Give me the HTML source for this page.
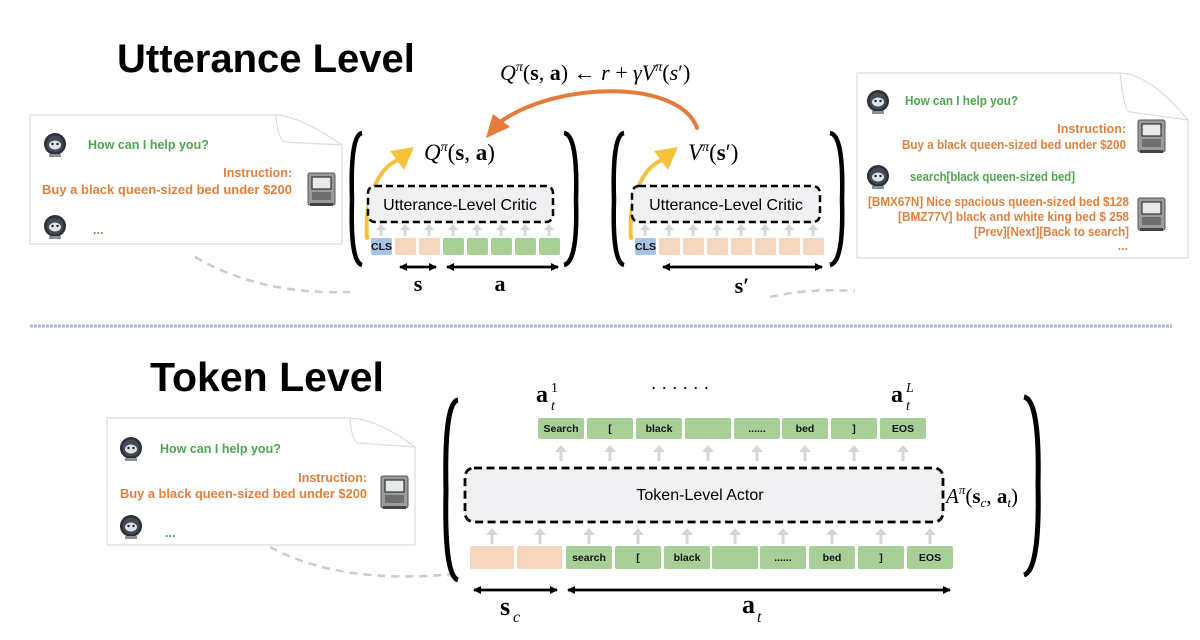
<!DOCTYPE html>
<html><head><meta charset="utf-8"><style>
html,body{margin:0;padding:0;background:#fff;}
svg{display:block;}
.t{font-family:"Liberation Sans",sans-serif;}
.c{font-family:"Liberation Sans",sans-serif;font-weight:bold;font-size:12.5px;}
.g{fill:#4ea64f;} .o{fill:#e0813f;}
.m{font-family:"Liberation Serif",serif;}
.tk{font-family:"Liberation Sans",sans-serif;font-weight:bold;font-size:10.5px;fill:#111;}
</style></head><body>
<svg width="1200" height="640" viewBox="0 0 1200 640" xmlns="http://www.w3.org/2000/svg">
<defs>
<g id="robot"><circle cx="0" cy="0" r="11" fill="#2b2f38"/><circle cx="0" cy="0" r="8.5" fill="#444b58"/><ellipse cx="0" cy="1" rx="6" ry="4.5" fill="#dfe3e8"/><circle cx="-2.5" cy="0" r="1.2" fill="#222"/><circle cx="2.5" cy="0" r="1.2" fill="#222"/><rect x="-6" y="10" width="12" height="3" fill="#8a9099"/></g>
<g id="comp"><rect x="0" y="0" width="27" height="32" rx="2" fill="#9a9c9c" stroke="#555" stroke-width="1"/><rect x="4" y="4" width="19" height="12" fill="#e6eae8" stroke="#333" stroke-width="1.2"/><rect x="4" y="19" width="19" height="8" fill="#6d7070"/><rect x="2" y="30" width="23" height="3" fill="#444"/></g>
<g id="ua"><rect x="-1.3" y="5" width="2.6" height="7" fill="#d6d6d6"/><path d="M-5,6 L0,0 L5,6 z" fill="#d6d6d6"/></g>
<g id="ub"><rect x="-1.5" y="6" width="3" height="10" fill="#d6d6d6"/><path d="M-6,7 L0,0 L6,7 z" fill="#d6d6d6"/></g>
<marker id="ah" markerWidth="8" markerHeight="8" refX="7" refY="4" orient="auto" markerUnits="userSpaceOnUse"><path d="M0,0 L8,4 L0,8 z" fill="#000"/></marker>
</defs>

<text x="117" y="72" class="t" font-size="40" font-weight="bold">Utterance Level</text>
<text x="150" y="391" class="t" font-size="41" font-weight="bold">Token Level</text>

<text x="500" y="80" class="m" font-size="22"><tspan font-style="italic">Q</tspan><tspan font-size="14" dy="-9" font-style="italic">π</tspan><tspan dy="9">(</tspan><tspan font-weight="bold">s</tspan>, <tspan font-weight="bold">a</tspan>) ← <tspan font-style="italic">r</tspan> + <tspan font-style="italic">γV</tspan><tspan font-size="14" dy="-9" font-style="italic">π</tspan><tspan dy="9">(</tspan><tspan font-style="italic">s</tspan>′)</text>

<path d="M697,128 C680,80 560,80 500,122" fill="none" stroke="#e47b3a" stroke-width="4" stroke-linecap="round"/>
<path d="M486,138 L493,114 L510,127 z" fill="#e47b3a"/>

<!-- LEFT CHAT -->
<path d="M30,115 L276,115 Q300,116 342,145 L342,244 L30,244 z" fill="#fff" stroke="#d8dfdc" stroke-width="1.2"/>
<path d="M276,115 Q278,140 285,142 L342,145" fill="none" stroke="#d8dfdc" stroke-width="1.2"/>
<use href="#robot" x="55" y="144"/>
<text x="88" y="149" class="c g">How can I help you?</text>
<text x="292" y="177" class="c o" text-anchor="end">Instruction:</text>
<text x="292" y="194" class="c o" text-anchor="end" textLength="250" lengthAdjust="spacingAndGlyphs">Buy a black queen-sized bed under $200</text>
<use href="#comp" x="308" y="173"/>
<use href="#robot" x="55" y="226"/>
<text x="93" y="234" class="c g">...</text>
<path d="M195,257 Q260,295 350,292" fill="none" stroke="#ccc" stroke-width="2.5" stroke-dasharray="8,6"/>

<!-- Q block -->
<path d="M362,133 Q350,135 352,200 Q350,262 362,265" fill="none" stroke="#000" stroke-width="4.5"/>
<path d="M564,133 Q578,135 576,200 Q578,262 564,265" fill="none" stroke="#000" stroke-width="4.5"/>
<text x="424" y="160" class="m" font-size="23"><tspan font-style="italic">Q</tspan><tspan font-size="14" dy="-9" font-style="italic">π</tspan><tspan dy="9">(</tspan><tspan font-weight="bold">s</tspan>, <tspan font-weight="bold">a</tspan>)</text>
<path d="M367,238 C364,200 378,168 398,160" fill="none" stroke="#f6c23e" stroke-width="4" stroke-linecap="round"/>
<path d="M414,147 L390,151 L404,170 z" fill="#f6c23e"/>
<rect x="368" y="186" width="185" height="36" rx="7" fill="#f0eff1" stroke="#000" stroke-width="2.5" stroke-dasharray="7,4"/>
<text x="460" y="210" class="t" font-size="16" text-anchor="middle">Utterance-Level Critic</text>
<use href="#ua" x="381" y="224"/><use href="#ua" x="405" y="224"/><use href="#ua" x="429" y="224"/><use href="#ua" x="453" y="224"/><use href="#ua" x="477" y="224"/><use href="#ua" x="501" y="224"/><use href="#ua" x="525" y="224"/><use href="#ua" x="549" y="224"/>
<rect x="371" y="238" width="21" height="17" rx="2" fill="#a9c3e6"/>
<text x="381.5" y="250" class="tk" font-size="8" text-anchor="middle">CLS</text>
<g fill="#f6d6bf"><rect x="395" y="238" width="21" height="17" rx="2"/><rect x="419" y="238" width="21" height="17" rx="2"/></g>
<g fill="#a9cf98"><rect x="443" y="238" width="21" height="17" rx="2"/><rect x="467" y="238" width="21" height="17" rx="2"/><rect x="491" y="238" width="21" height="17" rx="2"/><rect x="515" y="238" width="21" height="17" rx="2"/><rect x="539" y="238" width="21" height="17" rx="2"/></g>
<g stroke="#000" stroke-width="2.5">
<line x1="400" y1="267" x2="436" y2="267" marker-end="url(#ah)"/><line x1="436" y1="267" x2="400" y2="267" marker-end="url(#ah)"/>
<line x1="447" y1="267" x2="558" y2="267" marker-end="url(#ah)"/><line x1="558" y1="267" x2="447" y2="267" marker-end="url(#ah)"/>
</g>
<text x="418" y="291" class="m" font-size="22" font-weight="bold" text-anchor="middle">s</text>
<text x="500" y="291" class="m" font-size="22" font-weight="bold" text-anchor="middle">a</text>

<!-- V block -->
<path d="M624,133 Q612,135 614,200 Q612,262 624,265" fill="none" stroke="#000" stroke-width="4.5"/>
<path d="M830,133 Q844,135 842,200 Q844,262 830,265" fill="none" stroke="#000" stroke-width="4.5"/>
<text x="688" y="160" class="m" font-size="23"><tspan font-style="italic">V</tspan><tspan font-size="14" dy="-9" font-style="italic">π</tspan><tspan dy="9">(</tspan><tspan font-weight="bold">s</tspan>′)</text>
<path d="M631,238 C628,200 642,168 662,160" fill="none" stroke="#f6c23e" stroke-width="4" stroke-linecap="round"/>
<path d="M678,147 L654,151 L668,170 z" fill="#f6c23e"/>
<rect x="632" y="186" width="188" height="36" rx="7" fill="#f0eff1" stroke="#000" stroke-width="2.5" stroke-dasharray="7,4"/>
<text x="726" y="210" class="t" font-size="16" text-anchor="middle">Utterance-Level Critic</text>
<use href="#ua" x="645" y="224"/><use href="#ua" x="669" y="224"/><use href="#ua" x="693" y="224"/><use href="#ua" x="717" y="224"/><use href="#ua" x="741" y="224"/><use href="#ua" x="765" y="224"/><use href="#ua" x="789" y="224"/><use href="#ua" x="813" y="224"/>
<rect x="635" y="238" width="21" height="17" rx="2" fill="#a9c3e6"/>
<text x="645.5" y="250" class="tk" font-size="8" text-anchor="middle">CLS</text>
<g fill="#f6d6bf"><rect x="659" y="238" width="21" height="17" rx="2"/><rect x="683" y="238" width="21" height="17" rx="2"/><rect x="707" y="238" width="21" height="17" rx="2"/><rect x="731" y="238" width="21" height="17" rx="2"/><rect x="755" y="238" width="21" height="17" rx="2"/><rect x="779" y="238" width="21" height="17" rx="2"/><rect x="803" y="238" width="21" height="17" rx="2"/></g>
<g stroke="#000" stroke-width="2.5">
<line x1="663" y1="267" x2="822" y2="267" marker-end="url(#ah)"/><line x1="822" y1="267" x2="663" y2="267" marker-end="url(#ah)"/>
</g>
<text x="742" y="293" class="m" font-size="22" font-weight="bold" text-anchor="middle">s′</text>
<path d="M770,297 Q810,288 855,291" fill="none" stroke="#ccc" stroke-width="2.5" stroke-dasharray="8,6"/>

<!-- RIGHT CHAT -->
<path d="M857,73 L1120,73 Q1150,74 1188,120 L1188,258 L857,258 z" fill="#fff" stroke="#d8dfdc" stroke-width="1.2"/>
<path d="M1120,73 Q1124,112 1130,112 L1188,120" fill="none" stroke="#d8dfdc" stroke-width="1.2"/>
<use href="#robot" x="878" y="101"/>
<text x="905" y="105" class="c g" font-size="11.5" textLength="113" lengthAdjust="spacingAndGlyphs">How can I help you?</text>
<text x="1126" y="133" class="c o" text-anchor="end" font-size="11.5">Instruction:</text>
<text x="1126" y="149" class="c o" text-anchor="end" font-size="11.5" textLength="224" lengthAdjust="spacingAndGlyphs">Buy a black queen-sized bed under $200</text>
<use href="#comp" x="1138" y="120"/>
<use href="#robot" x="878" y="176"/>
<text x="910" y="181" class="c g" font-size="11.5" textLength="165" lengthAdjust="spacingAndGlyphs">search[black queen-sized bed]</text>
<text x="1129" y="206" class="c o" text-anchor="end" font-size="11.5" textLength="261" lengthAdjust="spacingAndGlyphs">[BMX67N] Nice spacious queen-sized bed $128</text>
<text x="1129" y="221" class="c o" text-anchor="end" font-size="11.5" textLength="231" lengthAdjust="spacingAndGlyphs">[BMZ77V] black and white king bed $ 258</text>
<text x="1129" y="236" class="c o" text-anchor="end" font-size="11.5" textLength="155" lengthAdjust="spacingAndGlyphs">[Prev][Next][Back to search]</text>
<text x="1128" y="250" class="c o" text-anchor="end" font-size="11.5">...</text>
<use href="#comp" x="1138" y="198"/>

<line x1="30" y1="326" x2="1172" y2="326" stroke="#a9b9e2" stroke-width="3" stroke-dasharray="3,1"/>

<!-- BOTTOM CHAT -->
<path d="M107,418 L350,418 Q380,420 415,447 L415,545 L107,545 z" fill="#fff" stroke="#d8dfdc" stroke-width="1.2"/>
<path d="M350,418 Q352,442 358,443 L415,447" fill="none" stroke="#d8dfdc" stroke-width="1.2"/>
<use href="#robot" x="131" y="448"/>
<text x="160" y="453" class="c g">How can I help you?</text>
<text x="367" y="482" class="c o" text-anchor="end">Instruction:</text>
<text x="367" y="498" class="c o" text-anchor="end" textLength="247" lengthAdjust="spacingAndGlyphs">Buy a black queen-sized bed under $200</text>
<use href="#comp" x="381" y="476"/>
<use href="#robot" x="131" y="526"/>
<text x="165" y="537" class="c g">...</text>
<path d="M270,547 Q340,585 455,574" fill="none" stroke="#ccc" stroke-width="2.5" stroke-dasharray="8,6"/>

<path d="M458,400 Q444,402 446,490 Q444,576 458,580" fill="none" stroke="#000" stroke-width="5"/>
<path d="M1024,397 Q1040,400 1038,485 Q1040,570 1024,575" fill="none" stroke="#000" stroke-width="5"/>

<text x="536" y="402" class="m" font-size="24" font-weight="bold">a</text>
<text x="551" y="410" class="m" font-size="14" font-style="italic">t</text>
<text x="551" y="392" class="m" font-size="14">1</text>
<text x="680" y="394" class="m" font-size="18" text-anchor="middle">· · · · · ·</text>
<text x="891" y="402" class="m" font-size="24" font-weight="bold">a</text>
<text x="906" y="410" class="m" font-size="14" font-style="italic">t</text>
<text x="906" y="392" class="m" font-size="14" font-style="italic">L</text>

<g fill="#a9cf98">
<rect x="538" y="418" width="46" height="21" rx="2"/><rect x="587" y="418" width="46" height="21" rx="2"/><rect x="636" y="418" width="46" height="21" rx="2"/><rect x="685" y="418" width="46" height="21" rx="2"/><rect x="734" y="418" width="46" height="21" rx="2"/><rect x="782" y="418" width="46" height="21" rx="2"/><rect x="831" y="418" width="46" height="21" rx="2"/><rect x="880" y="418" width="46" height="21" rx="2"/>
</g>
<g class="tk" text-anchor="middle">
<text x="561" y="432">Search</text><text x="610" y="432">[</text><text x="659" y="432">black</text><text x="757" y="432">......</text><text x="805" y="432">bed</text><text x="854" y="432">]</text><text x="903" y="432">EOS</text>
</g>
<use href="#ub" x="561" y="445"/><use href="#ub" x="610" y="445"/><use href="#ub" x="659" y="445"/><use href="#ub" x="708" y="445"/><use href="#ub" x="757" y="445"/><use href="#ub" x="805" y="445"/><use href="#ub" x="854" y="445"/><use href="#ub" x="903" y="445"/>

<rect x="465" y="468" width="478" height="54" rx="9" fill="#f0eff1" stroke="#000" stroke-width="2.8" stroke-dasharray="8,4.5"/>
<text x="700" y="500" class="t" font-size="16" text-anchor="middle">Token-Level Actor</text>
<text x="946" y="503" class="m" font-size="21"><tspan font-style="italic">A</tspan><tspan font-size="13" dy="-9" font-style="italic">π</tspan><tspan dy="9">(</tspan><tspan font-weight="bold">s</tspan><tspan font-size="13" dy="4" font-style="italic">c</tspan><tspan dy="-4">, </tspan><tspan font-weight="bold">a</tspan><tspan font-size="13" dy="4" font-style="italic">t</tspan><tspan dy="-4">)</tspan></text>

<use href="#ub" x="492" y="528"/><use href="#ub" x="540" y="528"/><use href="#ub" x="589" y="528"/><use href="#ub" x="638" y="528"/><use href="#ub" x="687" y="528"/><use href="#ub" x="735" y="528"/><use href="#ub" x="783" y="528"/><use href="#ub" x="832" y="528"/><use href="#ub" x="881" y="528"/><use href="#ub" x="930" y="528"/>
<g fill="#f6d6bf"><rect x="470" y="546" width="44" height="23" rx="2"/><rect x="517" y="546" width="45" height="23" rx="2"/></g>
<g fill="#a9cf98">
<rect x="566" y="546" width="46" height="23" rx="2"/><rect x="615" y="546" width="46" height="23" rx="2"/><rect x="664" y="546" width="46" height="23" rx="2"/><rect x="712" y="546" width="46" height="23" rx="2"/><rect x="760" y="546" width="46" height="23" rx="2"/><rect x="809" y="546" width="46" height="23" rx="2"/><rect x="858" y="546" width="46" height="23" rx="2"/><rect x="907" y="546" width="46" height="23" rx="2"/>
</g>
<g class="tk" text-anchor="middle">
<text x="589" y="561">search</text><text x="638" y="561">[</text><text x="687" y="561">black</text><text x="783" y="561">......</text><text x="832" y="561">bed</text><text x="881" y="561">]</text><text x="930" y="561">EOS</text>
</g>
<g stroke="#000" stroke-width="2.5">
<line x1="474" y1="590" x2="557" y2="590" marker-end="url(#ah)"/><line x1="557" y1="590" x2="474" y2="590" marker-end="url(#ah)"/>
<line x1="568" y1="590" x2="950" y2="590" marker-end="url(#ah)"/><line x1="950" y1="590" x2="568" y2="590" marker-end="url(#ah)"/>
</g>
<text x="500" y="615" class="m" font-size="26" font-weight="bold">s</text>
<text x="513" y="622" class="m" font-size="16" font-style="italic">c</text>
<text x="742" y="613" class="m" font-size="26" font-weight="bold">a</text>
<text x="757" y="622" class="m" font-size="16" font-style="italic">t</text>
</svg>
</body></html>
